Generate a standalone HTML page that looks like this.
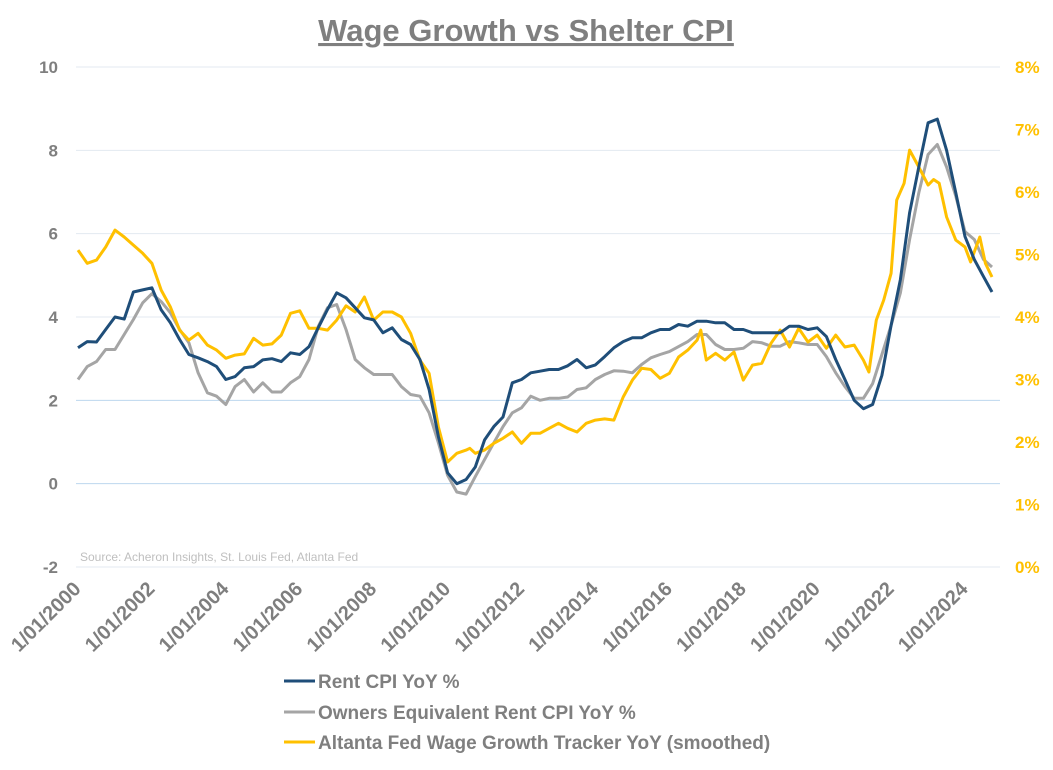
<!DOCTYPE html>
<html><head><meta charset="utf-8"><style>
body{margin:0;background:#fff;width:1053px;height:765px;overflow:hidden;font-family:"Liberation Sans",Arial,sans-serif}
svg text{font-family:"Liberation Sans",Arial,sans-serif}
</style></head><body>
<svg id="chart" width="1053" height="765" xmlns="http://www.w3.org/2000/svg">
<text x="526" y="41" text-anchor="middle" font-size="31" font-weight="bold" fill="#7f7f7f" text-decoration="underline">Wage Growth vs Shelter CPI</text>
<g id="grid"></g><g id="axes"></g><g id="series"></g>
<text x="80" y="561" font-size="12" fill="#bfbfbf">Source: Acheron Insights, St. Louis Fed, Atlanta Fed</text>
<g>
<line x1="284" y1="681" x2="315" y2="681" stroke="#1F4E79" stroke-width="3"/>
<text x="318" y="688" font-size="19" font-weight="bold" fill="#7f7f7f">Rent CPI YoY %</text>
<line x1="284" y1="712" x2="315" y2="712" stroke="#A5A5A5" stroke-width="3"/>
<text x="318" y="719" font-size="19" font-weight="bold" fill="#7f7f7f">Owners Equivalent Rent CPI YoY %</text>
<line x1="284" y1="742" x2="315" y2="742" stroke="#FFC000" stroke-width="3"/>
<text x="318" y="749" font-size="19" font-weight="bold" fill="#7f7f7f">Altanta Fed Wage Growth Tracker YoY (smoothed)</text>
</g>
</svg>
<script>
const leftTicks=[-2,0,2,4,6,8,10];
const rightTicks=[0,1,2,3,4,5,6,7,8];
const xTickYears=[2000,2002,2004,2006,2008,2010,2012,2014,2016,2018,2020,2022,2024];
const rentValues=[3.26,3.41,3.4,3.7,4.0,3.95,4.6,4.65,4.7,4.17,3.86,3.46,3.1,3.02,2.93,2.81,2.5,2.57,2.78,2.81,2.97,3.0,2.93,3.14,3.1,3.29,3.74,4.18,4.58,4.46,4.22,3.98,3.93,3.62,3.74,3.46,3.34,2.98,2.26,1.13,0.26,0.0,0.1,0.4,1.05,1.37,1.6,2.42,2.5,2.66,2.7,2.74,2.74,2.83,2.98,2.78,2.85,3.05,3.26,3.41,3.5,3.5,3.62,3.7,3.7,3.82,3.78,3.9,3.9,3.86,3.86,3.7,3.7,3.62,3.62,3.62,3.62,3.78,3.78,3.7,3.74,3.53,2.98,2.5,2.0,1.8,1.9,2.6,3.8,4.9,6.5,7.6,8.66,8.75,8.0,6.98,5.93,5.38,4.97,4.6];
const oerValues=[2.5,2.81,2.93,3.22,3.22,3.58,3.94,4.34,4.56,4.37,4.1,3.7,3.38,2.66,2.18,2.1,1.9,2.33,2.5,2.2,2.42,2.2,2.2,2.42,2.57,2.98,3.77,4.22,4.3,3.7,2.98,2.78,2.62,2.62,2.62,2.33,2.14,2.1,1.7,0.98,0.2,-0.2,-0.25,0.17,0.58,0.98,1.37,1.7,1.82,2.1,2.0,2.05,2.05,2.08,2.26,2.3,2.5,2.62,2.71,2.7,2.66,2.86,3.02,3.1,3.17,3.29,3.41,3.58,3.58,3.34,3.22,3.22,3.25,3.41,3.38,3.3,3.3,3.41,3.38,3.34,3.34,3.05,2.66,2.33,2.05,2.05,2.4,3.1,3.8,4.58,5.86,6.98,7.9,8.14,7.6,6.9,6.05,5.86,5.38,5.2];
const shelterLastDate=2024.73;
const wageDates=[2000,2000.25,2000.5,2000.75,2001,2001.25,2001.5,2001.75,2002,2002.25,2002.5,2002.75,2003,2003.25,2003.5,2003.75,2004,2004.25,2004.5,2004.75,2005,2005.25,2005.5,2005.75,2006,2006.25,2006.5,2006.75,2007,2007.25,2007.5,2007.75,2008,2008.25,2008.5,2008.75,2009,2009.25,2009.5,2009.75,2010,2010.25,2010.5,2010.6,2010.75,2011,2011.25,2011.5,2011.75,2012,2012.25,2012.5,2012.75,2013,2013.25,2013.5,2013.75,2014,2014.25,2014.5,2014.75,2015,2015.25,2015.5,2015.75,2016,2016.25,2016.5,2016.75,2016.85,2017,2017.25,2017.5,2017.75,2018,2018.25,2018.5,2018.75,2019,2019.25,2019.5,2019.75,2020,2020.25,2020.5,2020.75,2021,2021.25,2021.4,2021.6,2021.8,2022,2022.15,2022.35,2022.5,2022.75,2023,2023.15,2023.3,2023.5,2023.75,2024,2024.15,2024.3,2024.4,2024.55,2024.73];
const wageValues=[5.07,4.86,4.91,5.12,5.39,5.28,5.15,5.02,4.86,4.43,4.16,3.79,3.63,3.74,3.55,3.47,3.34,3.39,3.41,3.66,3.55,3.57,3.71,4.06,4.1,3.82,3.82,3.79,3.95,4.18,4.08,4.32,3.95,4.08,4.08,4.0,3.74,3.31,3.1,2.24,1.68,1.82,1.87,1.9,1.82,1.87,1.98,2.06,2.16,1.98,2.14,2.14,2.22,2.3,2.22,2.16,2.3,2.35,2.37,2.35,2.72,2.99,3.18,3.16,3.02,3.1,3.36,3.47,3.63,3.79,3.31,3.42,3.31,3.44,2.99,3.23,3.26,3.58,3.79,3.52,3.82,3.6,3.71,3.5,3.71,3.52,3.55,3.31,3.12,3.95,4.27,4.7,5.87,6.14,6.67,6.4,6.11,6.2,6.14,5.6,5.23,5.12,4.88,5.12,5.28,4.86,4.64];

const NS='http://www.w3.org/2000/svg';
const X0=78,PXY=36.96,YTOP=67,YBOT=567,XL=76,XR=1000;
const xs=t=>X0+(t-2000)*PXY;
const yL=v=>YBOT-(v+2)/12*(YBOT-YTOP);
const yR=v=>YBOT-v/8*(YBOT-YTOP);
function mk(tag,attrs,parent){const e=document.createElementNS(NS,tag);for(const k in attrs)e.setAttribute(k,attrs[k]);parent.appendChild(e);return e;}
const grid=document.getElementById('grid'),axes=document.getElementById('axes'),series=document.getElementById('series');
leftTicks.forEach(v=>{
  const g=mk('line',{x1:XL,x2:XR,y1:yL(v),y2:yL(v),stroke:(v===0||v===2)?'#bdd7ee':'#e3e9f1','stroke-width':1},grid);
  
  
  const t=mk('text',{x:58,y:yL(v)+6,'text-anchor':'end','font-size':17,'font-weight':'bold',fill:'#7f7f7f'},axes);
  t.textContent=v;
  
  
});
rightTicks.forEach(v=>{
  const t=mk('text',{x:1015,y:yR(v)+6,'font-size':17,'font-weight':'bold',fill:'#FFC000'},axes);
  t.textContent=v+'%';
  
  
});
xTickYears.forEach(yr=>{
  const x=xs(yr)+4,y=590;
  const t=mk('text',{x:x,y:y,'text-anchor':'end','font-size':20,'font-weight':'bold',fill:'#7f7f7f',transform:`rotate(-45 ${x} ${y})`},axes);
  t.textContent='1/01/'+yr;
  
  
});
function shelterDates(n){const d=[];for(let i=0;i<n-1;i++)d.push(2000+i*0.25);d.push(shelterLastDate);return d;}
function path(dates,vals,yf,color,name){
  const d=dates.map((t,i)=>(i?'L':'M')+xs(t).toFixed(1)+','+yf(vals[i]).toFixed(1)).join('');
  const p=mk('path',{d:d,fill:'none',stroke:color,'stroke-width':3,'stroke-linejoin':'round'},series);
  
  
}
path(shelterDates(oerValues.length),oerValues,yL,'#A5A5A5','oer-cpi-line');
path(wageDates,wageValues,yR,'#FFC000','wage-growth-line');
path(shelterDates(rentValues.length),rentValues,yL,'#1F4E79','rent-cpi-line');
</script>
</body></html>
